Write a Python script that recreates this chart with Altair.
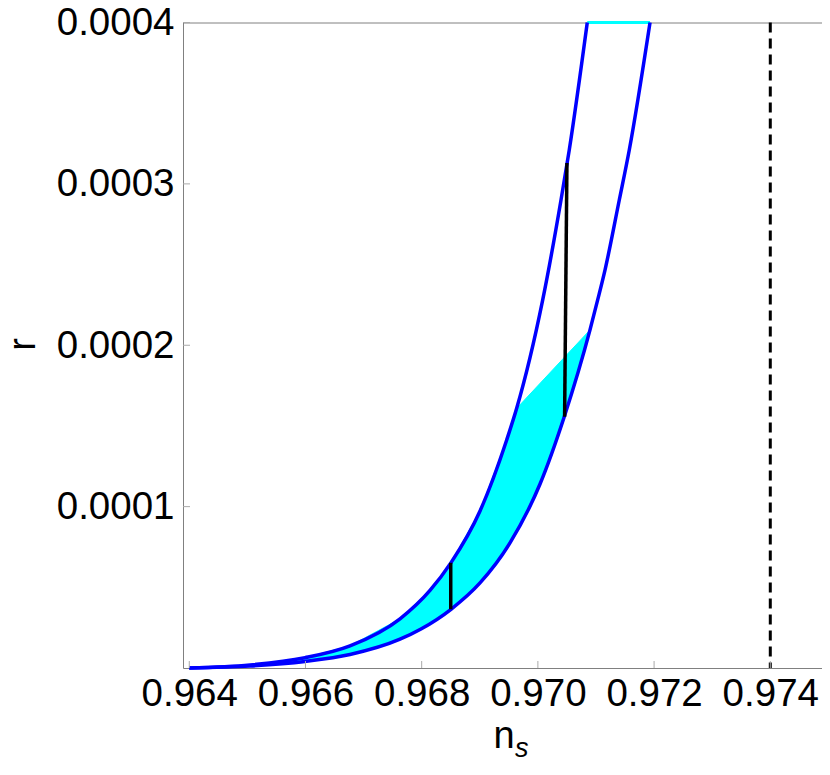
import altair as alt
import pandas as pd

# Data
# upper (left) boundary curve
up_ns = [0.96400, 0.965045, 0.965991, 0.966766, 0.967627, 0.968143, 0.968505, 0.969004,
         0.969463, 0.969635, 0.970083, 0.970398, 0.970540, 0.970850]
up_r = [0.0, 1.86e-6, 6.38e-6, 1.370e-5, 3.049e-5, 4.809e-5, 6.53e-5, 9.73e-5,
        1.413e-4, 1.609e-4, 2.281e-4, 2.900e-4, 3.210e-4, 4.0e-4]
# lower (right) boundary curve
lo_ns = [0.96400, 0.965045, 0.965991, 0.966766, 0.967627, 0.967988, 0.968505, 0.969004,
         0.969520, 0.970037, 0.970454, 0.970897, 0.971029, 0.971155, 0.971401, 0.971573,
         0.971930]
lo_r = [0.0, 1.24e-6, 4.09e-6, 8.37e-6, 1.785e-5, 2.417e-5, 3.64e-5, 5.27e-5,
        7.75e-5, 1.140e-4, 1.557e-4, 2.095e-4, 2.281e-4, 2.466e-4, 2.900e-4, 3.210e-4,
        4.0e-4]

# shaded region: polygon outline (along upper curve up to the corner, chord to the
# lower curve, then back down along the lower curve)
fill_ns = [0.96400, 0.965045, 0.965991, 0.966766, 0.967627, 0.968143, 0.968505, 0.969004,
           0.969463, 0.969635,
           0.970897, 0.970454, 0.970037, 0.969520, 0.969004, 0.968505, 0.967988,
           0.967627, 0.966766, 0.965991, 0.965045, 0.96400]
fill_r = [0.0, 1.86e-6, 6.38e-6, 1.370e-5, 3.049e-5, 4.809e-5, 6.53e-5, 9.73e-5,
          1.413e-4, 1.609e-4,
          2.095e-4, 1.557e-4, 1.140e-4, 7.75e-5, 5.27e-5, 3.64e-5, 2.417e-5,
          1.785e-5, 8.37e-6, 4.09e-6, 1.24e-6, 0.0]

# black segments
seg_ns = [0.96850, 0.97050]
seg_ns2 = [0.96850, 0.97046]
seg_top = [6.52e-5, 3.13e-4]
seg_bot = [3.64e-5, 1.557e-4]

# top cyan segment
top_x = [0.97085]
top_x2 = [0.97193]
top_r = [4.0e-4]

dashed_ns = [0.974]

x_ticks = [0.964, 0.966, 0.968, 0.970, 0.972, 0.974]
y_ticks = [0.0001, 0.0002, 0.0003, 0.0004]

W, H = 639, 645.5
FONT = "Liberation Sans"

xscale = alt.Scale(domain=[0.963892, 0.974890], nice=False, zero=False)
yscale = alt.Scale(domain=[0, 0.0004], nice=False, zero=False)

xaxis = alt.Axis(values=x_ticks, format=".3f", ticks=False, domain=False, grid=False,
                 labelFontSize=38.5, labelFont=FONT, labelColor="black", labelPadding=7,
                 title=None, labelFlush=False, labelOverlap=False)
yaxis = alt.Axis(values=y_ticks, format=".4f", ticks=False, domain=False, grid=False,
                 labelFontSize=38.5, labelFont=FONT, labelColor="black", labelPadding=9,
                 title=None, labelOverlap=False)

curves = pd.DataFrame({
    "ns": up_ns + lo_ns,
    "r": up_r + lo_r,
    "curve": ["upper"] * len(up_ns) + ["lower"] * len(lo_ns),
})
fill_df = pd.DataFrame({"ns": fill_ns, "r": fill_r, "i": list(range(len(fill_ns)))})
seg_df = pd.DataFrame({"ns": seg_ns, "ns2": seg_ns2, "top": seg_top, "bot": seg_bot})
top_df = pd.DataFrame({"x": top_x, "x2": top_x2, "r": top_r})
dash_df = pd.DataFrame({"ns": dashed_ns})
xt_df = pd.DataFrame({"v": x_ticks})
yt_df = pd.DataFrame({"v": y_ticks})

fill = alt.Chart(fill_df).mark_line(fill="#00FFFF", stroke="#00FFFF", strokeWidth=1,
                                    interpolate="linear").encode(
    x=alt.X("ns:Q", scale=xscale, axis=xaxis),
    y=alt.Y("r:Q", scale=yscale, axis=yaxis),
    order="i:Q",
)

topline = alt.Chart(top_df).mark_rule(color="#00FFFF", strokeWidth=3, clip=False).encode(
    x=alt.X("x:Q", scale=xscale), x2="x2:Q", y=alt.Y("r:Q", scale=yscale)
)

lines = alt.Chart(curves).mark_line(color="#0000FF", strokeWidth=3.5,
                                    interpolate="monotone").encode(
    x=alt.X("ns:Q", scale=xscale),
    y=alt.Y("r:Q", scale=yscale),
    detail="curve:N",
    order="r:Q",
)

segs = alt.Chart(seg_df).mark_rule(color="black", strokeWidth=3.5).encode(
    x=alt.X("ns:Q", scale=xscale), y=alt.Y("top:Q", scale=yscale),
    x2="ns2:Q", y2="bot:Q",
)

dashed = alt.Chart(dash_df).mark_rule(color="black", strokeWidth=3,
                                      strokeDash=[10, 6]).encode(
    x=alt.X("ns:Q", scale=xscale)
)

xticks = alt.Chart(xt_df).mark_rule(color="#aaaaaa", strokeWidth=1).encode(
    x=alt.X("v:Q", scale=xscale), y=alt.value(H), y2=alt.value(H - 7)
)
yticks = alt.Chart(yt_df).mark_rule(color="#aaaaaa", strokeWidth=1).encode(
    y=alt.Y("v:Q", scale=yscale), x=alt.value(0), x2=alt.value(7)
)

one = pd.DataFrame({"a": [0]})
t_n = alt.Chart(one).mark_text(fontSize=38, font=FONT, color="black",
                               align="center", baseline="alphabetic").encode(
    x=alt.value(321), y=alt.value(725), text=alt.value("n"))
t_s = alt.Chart(one).mark_text(fontSize=27, font=FONT, fontStyle="italic", color="black",
                               align="left", baseline="alphabetic").encode(
    x=alt.value(332), y=alt.value(734), text=alt.value("s"))
t_r = alt.Chart(one).mark_text(fontSize=38, font=FONT, color="black", angle=270,
                               align="center", baseline="alphabetic").encode(
    x=alt.value(-148), y=alt.value(322), text=alt.value("r"))

chart = alt.layer(fill, topline, lines, segs, dashed, xticks, yticks, t_n, t_s, t_r).properties(
    width=W, height=H,
    autosize=alt.AutoSizeParams(type="none"),
    padding={"left": 175, "top": 14.5, "right": 0, "bottom": 99},
    background="white",
).configure_view(stroke="#808080", strokeWidth=1)

chart.save("out.html", embed_options={"renderer": "svg", "actions": False})
